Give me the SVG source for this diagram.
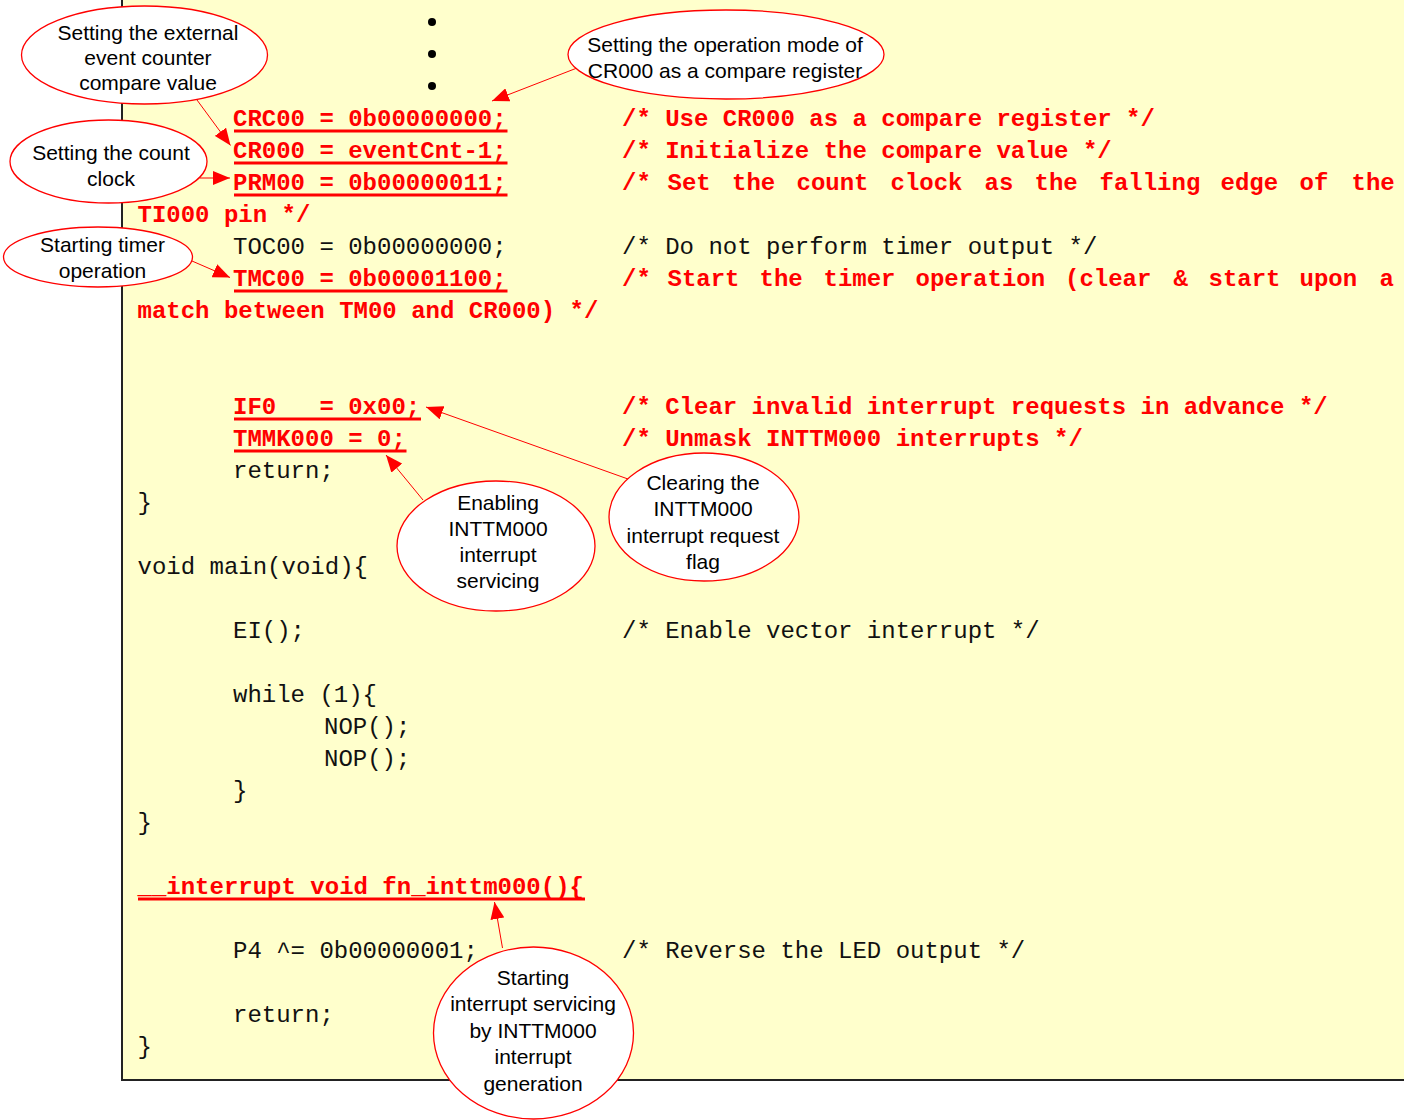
<svg xmlns="http://www.w3.org/2000/svg" width="1404" height="1120" viewBox="0 0 1404 1120">
<style>
.code{font-family:"Liberation Mono","Courier New",monospace;font-size:24px;fill:#111}
.red{fill:#ff0000;font-weight:bold}
.ul{stroke:#ff0000;stroke-width:3;fill:none}
.bub{fill:#ffffff;stroke:#ff0000;stroke-width:1.3}
.lbl{font-family:"Liberation Sans",Arial,sans-serif;font-size:21px;fill:#000;text-anchor:middle}
.con{stroke:#ff0000;stroke-width:1;fill:none;marker-end:url(#ah)}
</style>
<defs>
<marker id="ah" viewBox="0 0 17 14" refX="17" refY="7" markerWidth="17" markerHeight="14" markerUnits="userSpaceOnUse" orient="auto">
<path d="M0,0 L17,7 L0,14 z" fill="#ff0000"/>
</marker>
</defs>
<rect width="1404" height="1120" fill="#ffffff"/>
<g id="frame">
<rect x="122" y="-10" width="1400" height="1090" fill="#ffffcc" stroke="#222" stroke-width="2"/>
<circle cx="432" cy="22" r="4" fill="#000"/>
<circle cx="432" cy="54" r="4" fill="#000"/>
<circle cx="432" cy="86" r="4" fill="#000"/>
</g>
<g id="code">
<text class="code red" x="233" y="126">CRC00 = 0b00000000;</text>
<text class="code red" x="622" y="126">/* Use CR000 as a compare register */</text>
<text class="code red" x="233" y="158">CR000 = eventCnt-1;</text>
<text class="code red" x="622" y="158">/* Initialize the compare value */</text>
<text class="code red" x="233" y="190">PRM00 = 0b00000011;</text>
<text class="code red" y="190"><tspan x="622">/*</tspan><tspan x="667.5">Set</tspan><tspan x="732">the</tspan><tspan x="796.5">count</tspan><tspan x="890.5">clock</tspan><tspan x="984.5">as</tspan><tspan x="1034.5">the</tspan><tspan x="1099.5">falling</tspan><tspan x="1220.5">edge</tspan><tspan x="1299.5">of</tspan><tspan x="1351.5">the</tspan></text>
<text class="code red" x="137.5" y="222">TI000 pin */</text>
<text class="code" x="233" y="254">TOC00 = 0b00000000;</text>
<text class="code" x="622" y="254">/* Do not perform timer output */</text>
<text class="code red" x="233" y="286">TMC00 = 0b00001100;</text>
<text class="code red" y="286"><tspan x="622">/*</tspan><tspan x="667.5">Start</tspan><tspan x="759.5">the</tspan><tspan x="823.5">timer</tspan><tspan x="915.5">operation</tspan><tspan x="1065">(clear</tspan><tspan x="1173.5">&amp;</tspan><tspan x="1208.5">start</tspan><tspan x="1299.5">upon</tspan><tspan x="1379.5">a</tspan></text>
<text class="code red" x="137.5" y="318">match between TM00 and CR000) */</text>
<text class="code red" x="233" y="414" xml:space="preserve">IF0   = 0x00;</text>
<text class="code red" x="622" y="414">/* Clear invalid interrupt requests in advance */</text>
<text class="code red" x="233" y="446">TMMK000 = 0;</text>
<text class="code red" x="622" y="446">/* Unmask INTTM000 interrupts */</text>
<text class="code" x="233" y="478">return;</text>
<text class="code" x="137.5" y="510">}</text>
<text class="code" x="137.5" y="574">void main(void){</text>
<text class="code" x="233" y="638">EI();</text>
<text class="code" x="622" y="638">/* Enable vector interrupt */</text>
<text class="code" x="233" y="702">while (1){</text>
<text class="code" x="324" y="734">NOP();</text>
<text class="code" x="324" y="766">NOP();</text>
<text class="code" x="233" y="798">}</text>
<text class="code" x="137.5" y="830">}</text>
<text class="code red" x="137.5" y="894">__interrupt void fn_inttm000(){</text>
<text class="code" x="233" y="958">P4 ^= 0b00000001;</text>
<text class="code" x="622" y="958">/* Reverse the LED output */</text>
<text class="code" x="233" y="1022">return;</text>
<text class="code" x="137.5" y="1054">}</text>
<line class="ul" x1="234" y1="131" x2="507.5" y2="131"/>
<line class="ul" x1="234" y1="163" x2="507.5" y2="163"/>
<line class="ul" x1="234" y1="195" x2="507.5" y2="195"/>
<line class="ul" x1="234" y1="291" x2="507.5" y2="291"/>
<line class="ul" x1="234" y1="419" x2="421" y2="419"/>
<line class="ul" x1="234" y1="451" x2="406.5" y2="451"/>
<line class="ul" x1="138" y1="899" x2="585" y2="899"/>
</g>
<g id="connectors">
<line class="con" x1="197" y1="100" x2="230.5" y2="145.5"/>
<line class="con" x1="577" y1="68" x2="492" y2="101"/>
<line class="con" x1="200" y1="178" x2="230" y2="178"/>
<line class="con" x1="192" y1="261" x2="230" y2="277.5"/>
<line class="con" x1="423" y1="500" x2="386" y2="455"/>
<line class="con" x1="628" y1="479" x2="426" y2="407"/>
<line class="con" x1="502.5" y1="948" x2="494.5" y2="902"/>
</g>
<g id="n-external">
<ellipse class="bub" cx="144.5" cy="55" rx="123" ry="49"/>
<text class="lbl" x="148" y="40">Setting the external</text>
<text class="lbl" x="148" y="65">event counter</text>
<text class="lbl" x="148" y="90">compare value</text>
</g>
<g id="n-opmode">
<ellipse class="bub" cx="726" cy="54.5" rx="158" ry="44.5"/>
<text class="lbl" x="725" y="52">Setting the operation mode of</text>
<text class="lbl" x="725" y="78">CR000 as a compare register</text>
</g>
<g id="n-countclock">
<ellipse class="bub" cx="108.5" cy="161.5" rx="98.5" ry="41.5"/>
<text class="lbl" x="111" y="160">Setting the count</text>
<text class="lbl" x="111" y="186">clock</text>
</g>
<g id="n-starttimer">
<ellipse class="bub" cx="98" cy="257" rx="94.5" ry="30"/>
<text class="lbl" x="102.5" y="252">Starting timer</text>
<text class="lbl" x="102.5" y="278">operation</text>
</g>
<g id="n-enabling">
<ellipse class="bub" cx="496" cy="546" rx="99" ry="65"/>
<text class="lbl" x="498" y="510">Enabling</text>
<text class="lbl" x="498" y="536">INTTM000</text>
<text class="lbl" x="498" y="562">interrupt</text>
<text class="lbl" x="498" y="588">servicing</text>
</g>
<g id="n-clearing">
<ellipse class="bub" cx="704" cy="517" rx="95" ry="64"/>
<text class="lbl" x="703" y="490">Clearing the</text>
<text class="lbl" x="703" y="516">INTTM000</text>
<text class="lbl" x="703" y="543">interrupt request</text>
<text class="lbl" x="703" y="569">flag</text>
</g>
<g id="n-startint">
<ellipse class="bub" cx="533.5" cy="1033" rx="100" ry="86"/>
<text class="lbl" x="533" y="985">Starting</text>
<text class="lbl" x="533" y="1011">interrupt servicing</text>
<text class="lbl" x="533" y="1038">by INTTM000</text>
<text class="lbl" x="533" y="1064">interrupt</text>
<text class="lbl" x="533" y="1091">generation</text>
</g>
</svg>
